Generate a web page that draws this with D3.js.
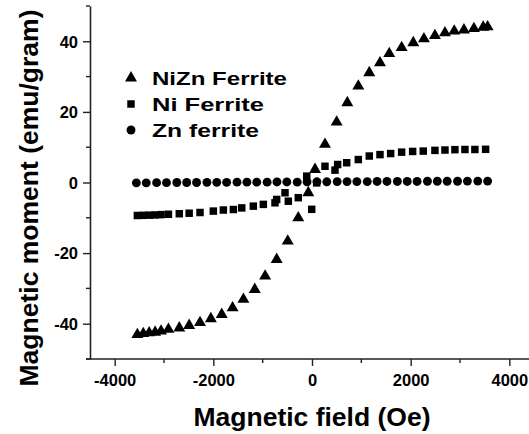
<!DOCTYPE html>
<html>
<head>
<meta charset="utf-8">
<script src="https://cdn.jsdelivr.net/npm/d3@7"></script>
<style>
  body { margin: 0; background: #fff; }
  text { font-family: "Liberation Sans", Arial, sans-serif; font-weight: bold; fill: #000; }
</style>
</head>
<body>
<svg id="chart"></svg>
<script>
// NiZn ferrite (triangles)
const niznField = [-3540, -3420, -3300, -3180, -3060, -2910, -2690, -2490, -2270, -2050, -1830, -1610,
  -1390, -1160, -950, -716, -492, -278, -75, 61, 263, 500, 716, 939, 1161, 1378, 1566, 1817, 2053,
  2269, 2492, 2695, 2883, 3080, 3282, 3470, 3560];
const niznMoment = [-43.1, -42.8, -42.6, -42.4, -42.1, -41.6, -41.2, -40.5, -39.7, -38.6, -37.4, -35.5,
  -33.1, -30.3, -26.5, -21.8, -16.6, -10.0, -2.9, 3.7, 10.8, 17.1, 22.6, 27.3, 31.1, 33.9, 36.5, 38.2, 39.6,
  40.7, 41.6, 42.4, 42.9, 43.2, 43.6, 44.0, 44.1];

// Ni ferrite (squares)
const niField = [-3540, -3420, -3300, -3180, -3060, -2910, -2690, -2490, -2270, -2000, -1797, -1594,
  -1424, -1189, -986, -750, -716, -547, -480, -278, -107, -6, 95, 263, 466, 520, 703, 939, 1161, 1378,
  1594, 1817, 2040, 2255, 2492, 2695, 2897, 3100, 3302, 3519];
const niMoment = [-9.35, -9.3, -9.25, -9.2, -9.1, -9.0, -8.85, -8.7, -8.5, -8.1, -7.8, -7.65,
  -7.2, -6.7, -6.2, -5.75, -4.8, -2.9, -5.3, -4.3, 1.8, -7.6, -0.1, 4.6, 3.5, 5.1, 5.6, 6.5, 7.5, 7.9,
  8.2, 8.6, 8.8, 8.9, 9.1, 9.2, 9.3, 9.35, 9.35, 9.4];

// Zn ferrite (circles)
const znField = [-3560, -3360, -3150, -2950, -2740, -2540, -2340, -2130, -1930, -1730, -1520, -1320,
  -1120, -910, -710, -510, -300, -100, 100, 300, 510, 710, 910, 1120, 1320, 1520, 1730, 1930, 2130,
  2340, 2540, 2740, 2950, 3150, 3360, 3560];
const znMoment = [-0.1, -0.1, -0.05, -0.05, 0, 0, 0, 0.05, 0.05, 0.05, 0.1, 0.1,
  0.1, 0.1, 0.15, 0.15, 0.1, 0.2, 0.2, 0.2, 0.25, 0.25, 0.25, 0.25, 0.3, 0.3, 0.3, 0.3, 0.3,
  0.35, 0.35, 0.35, 0.35, 0.4, 0.4, 0.4];

const xMajor = [-4000, -2000, 0, 2000, 4000];
const xMinor = [-3000, -1000, 1000, 3000];
const yMajor = [-40, -20, 0, 20, 40];
const yMinor = [-50, -30, -10, 10, 30, 50];

const seriesNames = ["NiZn Ferrite", "Ni Ferrite", "Zn ferrite"];

const W = 529, H = 434;
const svg = d3.select("#chart").attr("width", W).attr("height", H);

const x = d3.scaleLinear().domain([-4500, 4500]).range([90, 534]);
const y = d3.scaleLinear().domain([-50, 50]).range([359, 6]);

// axes (plain hyphen for negatives, like the original)
const fmt = (d) => String(d);

const xAxis = svg.append("g").attr("transform", "translate(0," + y(-50) + ")");
xAxis.call(d3.axisBottom(x).tickValues(xMajor).tickSize(7).tickSizeOuter(0).tickFormat(fmt));
xAxis.append("g").selectAll("line").data(xMinor).enter().append("line")
  .attr("x1", (d) => x(d)).attr("x2", (d) => x(d)).attr("y1", 0).attr("y2", 4);

const yAxis = svg.append("g").attr("transform", "translate(" + x(-4500) + ",0)");
yAxis.call(d3.axisLeft(y).tickValues(yMajor).tickSize(7).tickSizeOuter(0).tickFormat(fmt));
yAxis.append("g").selectAll("line").data(yMinor).enter().append("line")
  .attr("x1", -4).attr("x2", 0).attr("y1", (d) => y(d)).attr("y2", (d) => y(d));

svg.selectAll(".domain").attr("stroke", "#222").attr("stroke-width", 1.6);
svg.selectAll(".tick line").attr("stroke", "#222").attr("stroke-width", 1.4);
svg.selectAll("g g line").attr("stroke", "#222").attr("stroke-width", 1.4);
xAxis.select(".domain").attr("d", "M86,0H" + W);

xAxis.selectAll(".tick text").attr("dy", null).attr("y", 27)
  .style("font-size", "16.5px").style("font-family", "Liberation Sans, Arial, sans-serif").style("font-weight", "bold");
yAxis.selectAll(".tick text").attr("x", -12).attr("dy", "0.35em")
  .style("font-size", "16.5px").style("font-family", "Liberation Sans, Arial, sans-serif").style("font-weight", "bold");

// axis titles
svg.append("text").attr("x", 312).attr("y", 426).attr("text-anchor", "middle")
  .style("font-size", "26.5px").text("Magnetic field (Oe)");
svg.append("text").attr("transform", "translate(38,198) rotate(-90)").attr("text-anchor", "middle")
  .style("font-size", "26.5px").text("Magnetic moment (emu/gram)");

// data marks
const triangle = d3.symbol().type(d3.symbolTriangle).size(62);
const square = d3.symbol().type(d3.symbolSquare).size(56);
const circle = d3.symbol().type(d3.symbolCircle).size(62);

svg.append("g").selectAll("path").data(d3.zip(znField, znMoment)).enter().append("path")
  .attr("d", circle).attr("transform", (d) => "translate(" + x(d[0]) + "," + y(d[1]) + ")");
svg.append("g").selectAll("path").data(d3.zip(niField, niMoment)).enter().append("path")
  .attr("d", square).attr("transform", (d) => "translate(" + x(d[0]) + "," + y(d[1]) + ")");
svg.append("g").selectAll("path").data(d3.zip(niznField, niznMoment)).enter().append("path")
  .attr("d", triangle).attr("transform", (d) => "translate(" + x(d[0]) + "," + y(d[1]) + ")");

// legend
const legend = svg.append("g").attr("transform", "translate(131,78)");
const symbols = [triangle, square, circle];
const legendWidths = [135, 112, 107];
seriesNames.forEach((name, i) => {
  legend.append("path").attr("d", symbols[i]).attr("transform", "translate(0," + i * 26 + ")");
  legend.append("text").attr("x", 21).attr("y", i * 26 + 6.5)
    .attr("textLength", legendWidths[i]).attr("lengthAdjust", "spacingAndGlyphs")
    .style("font-size", "17.5px").text(name);
});
</script>
</body>
</html>
